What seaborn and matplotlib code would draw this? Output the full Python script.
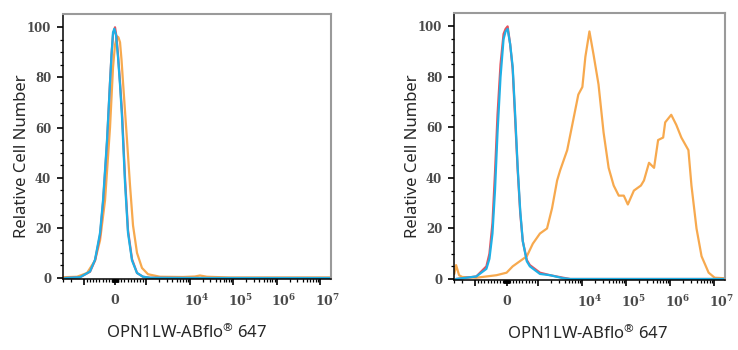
import numpy as np
import pandas as pd
import seaborn as sns
import matplotlib.pyplot as plt
from matplotlib.transforms import ScaledTranslation

# Left panel (negative control sample)
LEFT_BLUE_X = [-2690, -1216, -799, -639, -479, -383, -319, -256, -160, -112, -64, -22, 32, 96, 160, 224,
               319, 415, 543, 703, 894, 1216, 17140, 1.67e7]
LEFT_BLUE_Y = [0, 0.3, 2.6, 7.3, 18, 31, 43, 55, 78, 89, 98, 99.4, 97, 88, 77, 64,
               38, 18, 7, 2, 0.5, 0.1, 0, 0]
LEFT_RED_X = [-2690, -1216, -799, -639, -479, -383, -319, -256, -160, -112, -64, 0, 48, 96, 160, 224,
              319, 415, 543, 703, 894, 1216, 17140, 1.67e7]
LEFT_RED_Y = [0, 0.3, 2.5, 7, 17, 30, 42, 54, 78, 89, 97, 100, 96, 89, 78, 66,
              40, 19, 7.5, 2, 0.5, 0.1, 0, 0]
LEFT_ORANGE_X = [-2985, -1426, -894, -639, -479, -319, -160, -64, 0, 64, 109, 160, 208, 256, 383, 479, 575,
                 703, 862, 1094, 2061, 6970, 13150, 17140, 24830, 84000, 1.67e7]
LEFT_ORANGE_Y = [0.3, 0.5, 2, 7, 15, 31, 60, 84, 93, 96.4, 96, 94, 87, 78, 55, 37, 21,
                 10, 4, 1.5, 0.5, 0.4, 0.6, 1, 0.5, 0.2, 0.2]

# Right panel (positive sample)
RIGHT_BLUE_X = [-2690, -958, -639, -543, -447, -367, -287, -192, -96, -32, 32, 112, 192, 271, 351, 431,
                511, 639, 735, 1094, 1858, 3690, 5350, 1.7e7]
RIGHT_BLUE_Y = [0, 1, 4, 8, 18, 35, 58, 80, 95, 98, 99, 93, 84, 65, 44, 27,
                15, 7, 5, 2, 1.5, 0.3, 0, 0]
RIGHT_RED_X = RIGHT_BLUE_X
RIGHT_RED_Y = [0, 1, 5, 10, 22, 42, 65, 85, 97, 99, 100, 93, 83, 63, 43, 26,
               15, 7.5, 5.5, 2.5, 1.5, 0.5, 0, 0]
RIGHT_ORANGE_X = [-2950, -2690, -2300, -1955, -958, -639, -319, 0, 192, 415, 639, 830, 1094, 1585, 2061,
                  2690, 3150, 4560, 6270, 8170, 10100, 11830, 14620, 18070, 23550, 30690, 40000, 52100,
                  67900, 88500, 109400, 150300, 217300, 254700, 331900, 432500, 534600, 696600, 774500,
                  1.064e6, 1.387e6, 1.807e6, 2.618e6, 3.069e6, 4.0e6, 5.21e6, 7.55e6, 1.038e7, 1.7e7]
RIGHT_ORANGE_Y = [2, 5.5, 1.5, 0.8, 0.5, 1, 1.5, 2.5, 5, 7, 9, 14, 18, 20, 28,
                  39, 43, 51, 63, 73, 76, 88, 98, 89, 77, 58, 44, 37,
                  33, 33, 29.5, 35, 37, 39, 46, 44, 55, 56, 62,
                  65, 61, 56, 51, 37, 20, 9, 2.5, 0.5, 0.3]

MAJOR_TICKS = [-1000, 0, 1000, 1e4, 1e5, 1e6, 1e7]
MAJOR_LABELS = ["", "0", "", r"$\mathregular{10^{4}}$", r"$\mathregular{10^{5}}$",
                r"$\mathregular{10^{6}}$", r"$\mathregular{10^{7}}$"]
Y_TICKS = [0, 20, 40, 60, 80, 100]

COLORS = {"orange": "#F7A94E", "red": "#E5525E", "blue": "#1FB0E6"}
XLABEL = r"OPN1LW-ABflo$\mathregular{^{®}}$ 647"
YLABEL = "Relative Cell Number"

sns.set_style("ticks")
plt.rcParams["font.family"] = ["Noto Sans", "DejaVu Sans"]

fig = plt.figure(figsize=(7.38, 3.5), dpi=100)
ax_l = fig.add_axes([63 / 738, 71 / 350, 268 / 738, 265 / 350])
ax_r = fig.add_axes([454 / 738, 70 / 350, 271 / 738, 267 / 350])

# minor ticks for the biexponential-like axis
minor = []
for s in (-1, 1):
    minor += [s * v for v in range(10, 100, 10)]
    minor += [s * v for v in range(100, 1000, 100)]
minor += [-2000, -3000]
for p in range(3, 7):
    minor += [m * 10 ** p for m in range(2, 10)]

panels = [
    (ax_l, 0.461, [(LEFT_ORANGE_X, LEFT_ORANGE_Y, "orange"), (LEFT_RED_X, LEFT_RED_Y, "red"),
                   (LEFT_BLUE_X, LEFT_BLUE_Y, "blue")]),
    (ax_r, 0.491, [(RIGHT_ORANGE_X, RIGHT_ORANGE_Y, "orange"), (RIGHT_RED_X, RIGHT_RED_Y, "red"),
                   (RIGHT_BLUE_X, RIGHT_BLUE_Y, "blue")]),
]

offset = ScaledTranslation(7 / 100, 0, fig.dpi_scale_trans)

for ax, xlab_pos, curves in panels:
    for xs, ys, name in curves:
        df = pd.DataFrame({"x": xs, "y": ys})
        sns.lineplot(data=df, x="x", y="y", ax=ax, color=COLORS[name], lw=1.6,
                     estimator=None, sort=False)
    ax.set_xscale("symlog", linthresh=1000, linscale=0.648)
    ax.set_xlim(-3000, 1.78e7)
    ax.set_ylim(-0.4, 105.3)
    ax.set_xticks(MAJOR_TICKS)
    ax.set_xticklabels(MAJOR_LABELS)
    ax.set_xticks(minor, minor=True)
    ax.set_yticks(Y_TICKS)
    ax.set_yticks(np.arange(0, 105, 5), minor=True)
    ax.tick_params(which="major", length=4.5, width=1.2, color="black", pad=4)
    ax.tick_params(which="minor", length=2.3, width=0.9, color="black")
    ax.tick_params(axis="x", which="major", pad=6)
    for lab in ax.get_yticklabels():
        lab.set_family("DejaVu Serif")
        lab.set_fontweight("bold")
        lab.set_fontsize(8.5)
        lab.set_color("#4a4a4a")
    for lab in ax.get_xticklabels():
        lab.set_family("DejaVu Serif")
        lab.set_fontweight("bold")
        lab.set_fontsize(9)
        lab.set_color("#4a4a4a")
    for lab in ax.get_xticklabels()[3:]:
        lab.set_transform(lab.get_transform() + offset)
    for side in ("left", "bottom"):
        ax.spines[side].set_color("black")
        ax.spines[side].set_linewidth(1.1)
    for side in ("top", "right"):
        ax.spines[side].set_visible(True)
        ax.spines[side].set_color("#9a9a9a")
        ax.spines[side].set_linewidth(1.5)
    ax.set_xlabel(XLABEL, fontsize=12, labelpad=10, x=xlab_pos)
    ax.set_ylabel(YLABEL, fontsize=12, labelpad=-2, y=0.464)

fig.savefig("out.png", dpi=100, facecolor="white")
